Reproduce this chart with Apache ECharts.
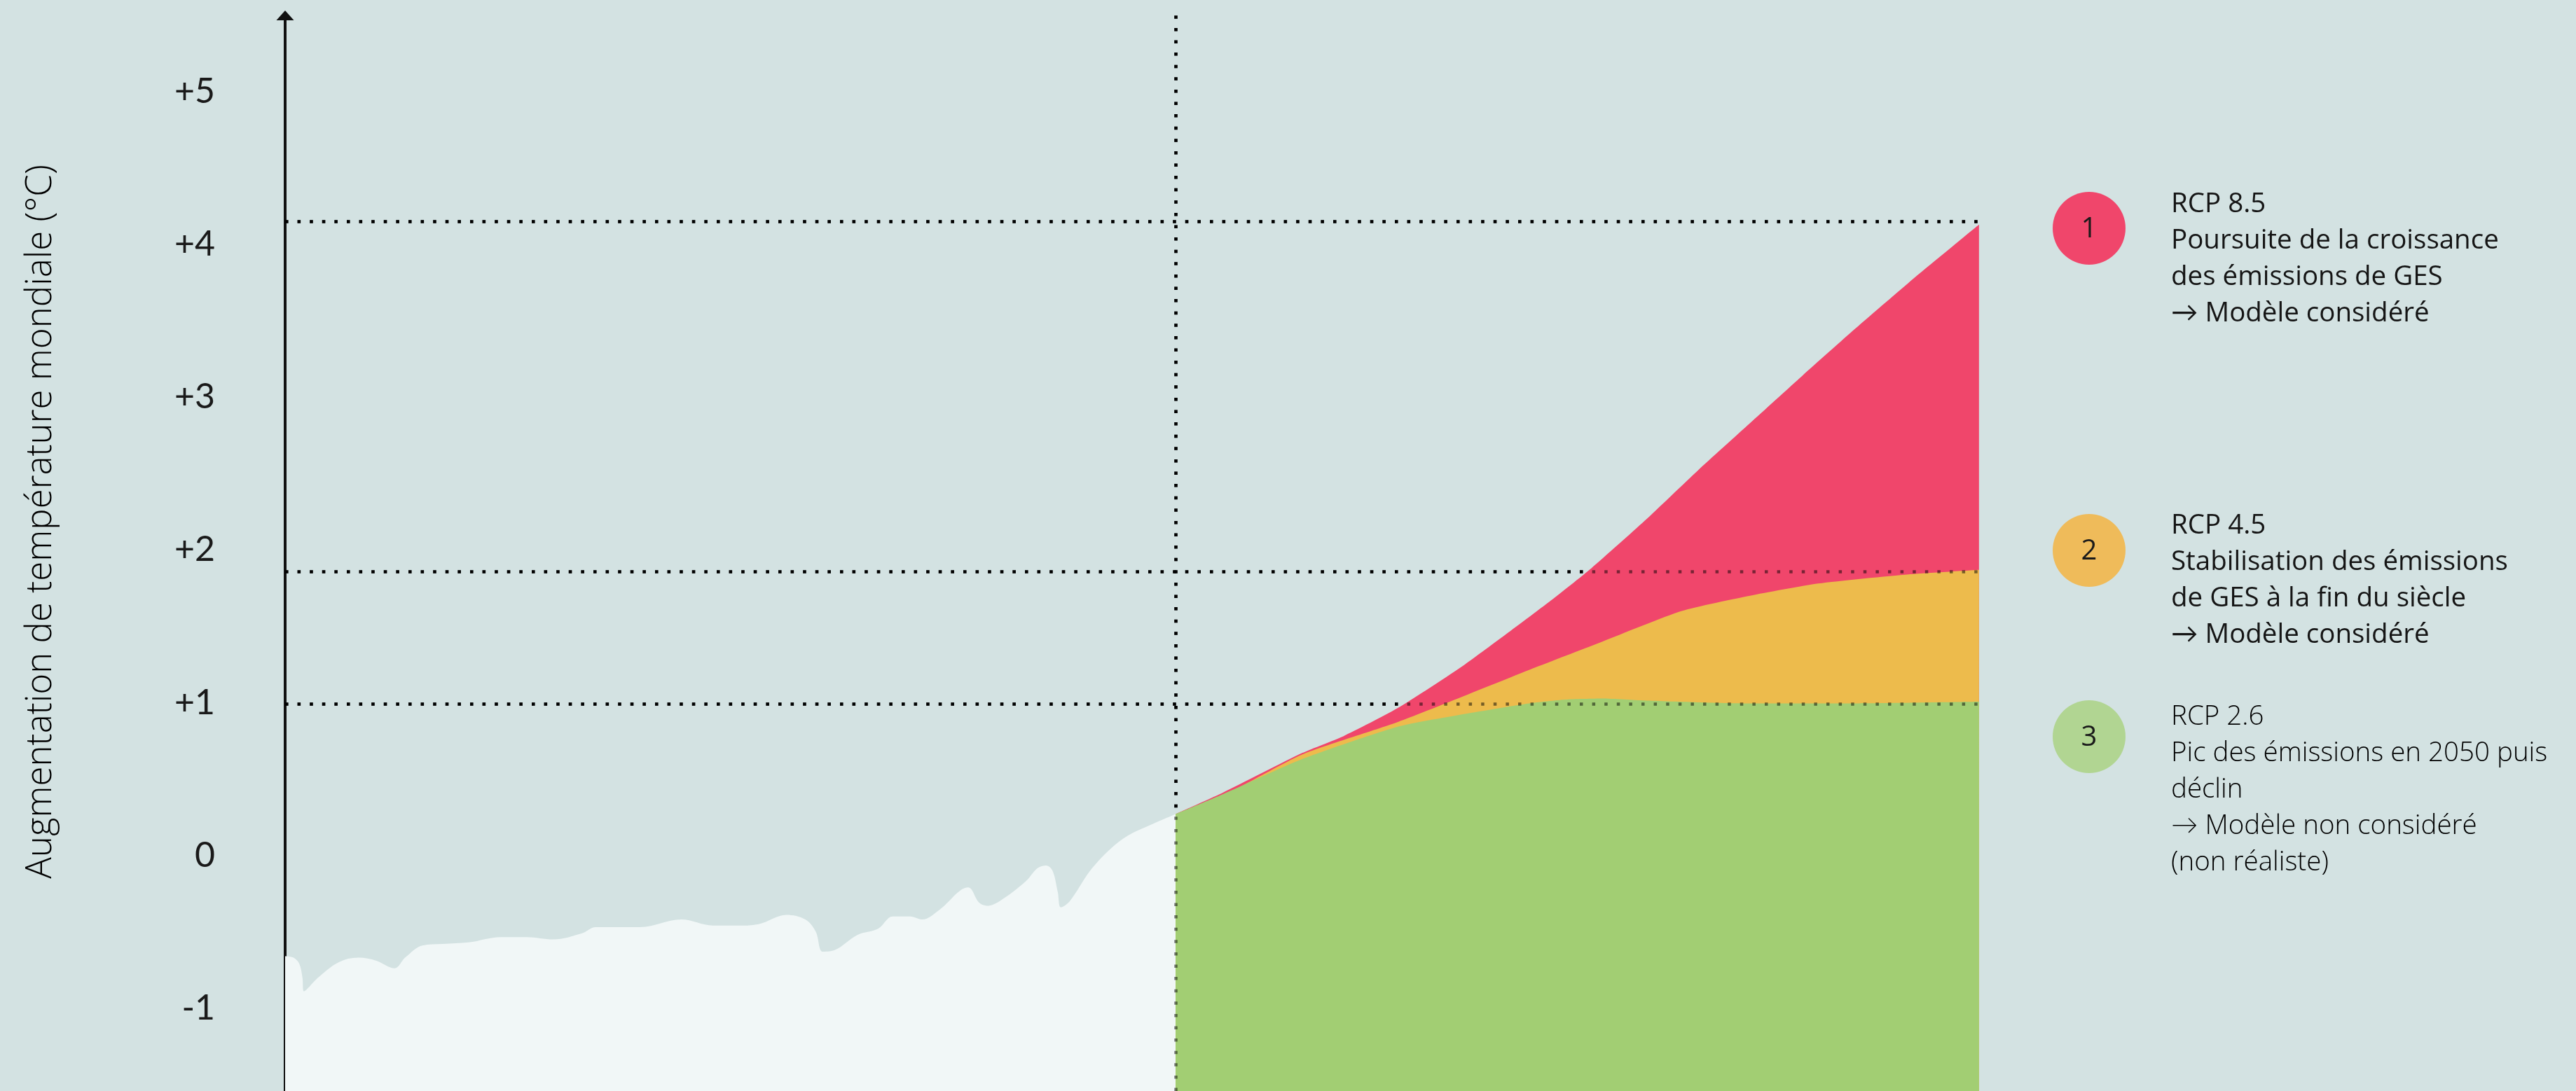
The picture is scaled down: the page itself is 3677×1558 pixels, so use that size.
<!DOCTYPE html>
<html>
<head>
<meta charset="utf-8">
<script src="https://cdn.jsdelivr.net/npm/echarts@6/dist/echarts.min.js"></script>
<style>
html,body{margin:0;padding:0;background:#d3e2e2;}
#chart{width:3677px;height:1558px;}
</style>
</head>
<body>
<div id="chart"></div>
<script>
// ---------- DATA ----------
const yTickValues = [-1, 0, 1, 2, 3, 4, 5];
const yTitle = 'Augmentation de température mondiale (°C)';

const histYears = [1850, 1851.6, 1852.7, 1853.3, 1853.6, 1856.3, 1860.2, 1864.0, 1867.4, 1870.9, 1872.9, 1876.2, 1880.1, 1885.0, 1891.2, 1896.1, 1901.2, 1906.7, 1909.3, 1917.8, 1925.6, 1931.7, 1936.0, 1940.4, 1945.7, 1949.3, 1951.3, 1952.6, 1954.9, 1959.3, 1963.2, 1966.0, 1969.3, 1971.7, 1974.8, 1980.4, 1982.5, 1984.0, 1986.4, 1991.4, 1993.6, 1995.3, 1996.5, 1997.5, 1998.1, 1999.8, 2003.7, 2007.6, 2010.9, 2015.3, 2020];
const histTemps = [-0.66, -0.67, -0.71, -0.80, -0.89, -0.80, -0.70, -0.67, -0.69, -0.74, -0.67, -0.59, -0.58, -0.57, -0.535, -0.535, -0.55, -0.51, -0.47, -0.47, -0.42, -0.46, -0.46, -0.45, -0.39, -0.42, -0.50, -0.63, -0.62, -0.52, -0.48, -0.40, -0.40, -0.42, -0.36, -0.21, -0.31, -0.33, -0.30, -0.17, -0.085, -0.066, -0.10, -0.24, -0.34, -0.30, -0.10, 0.044, 0.13, 0.20, 0.27];

const rcp85Years = [2020, 2024.7, 2032.6, 2036.7, 2042.0, 2048.8, 2057.2, 2061.4, 2066.7, 2072.0, 2077.2, 2082.4, 2087.7, 2093.0, 2100];
const rcp85Temps = [0.27, 0.41, 0.67, 0.78, 0.96, 1.25, 1.66, 1.88, 2.19, 2.52, 2.83, 3.14, 3.45, 3.75, 4.13];

const rcp45Years = [2020, 2025.0, 2032.6, 2042.0, 2046.7, 2056.2, 2062.5, 2070.4, 2077.2, 2084.0, 2093.0, 2100];
const rcp45Temps = [0.27, 0.40, 0.66, 0.87, 0.99, 1.24, 1.40, 1.60, 1.70, 1.78, 1.84, 1.87];

const rcp26Years = [2020, 2024.7, 2032.6, 2042.0, 2048.3, 2055.2, 2058.8, 2062.5, 2066.7, 2072.0, 2077.2, 2087.7, 2100];
const rcp26Temps = [0.27, 0.40, 0.63, 0.84, 0.92, 0.995, 1.02, 1.027, 1.014, 1.002, 0.995, 0.995, 1.006];

const guideLevels = [4.15, 1.86, 0.99];
const presentYear = 2020;
const endYear = 2100;
const histStartYear = 1850;

const legendNumbers = ['1', '2', '3'];
const legendTexts = [
  'RCP 8.5\nPoursuite de la croissance\ndes émissions de GES\n→ Modèle considéré',
  'RCP 4.5\nStabilisation des émissions\nde GES à la fin du siècle\n→ Modèle considéré',
  'RCP 2.6\nPic des émissions en 2050 puis\ndéclin\n→ Modèle non considéré\n(non réaliste)'
];

// ---------- STYLE / LAYOUT ----------
const C_BG = '#d3e2e2', C_HIST = '#f1f7f7', C_RED = '#f0466b', C_YEL = '#edbb4c', C_GRN = '#a2ce73';
const C_CIRC = ['#f0466b', '#efbb5a', '#b1d592'];
const FONT = '"Open Sans", Lato, sans-serif';
const TICK_FONT = 'Lato, "Open Sans", sans-serif';
const GRID = {left: 407, right: 0, top: 22, bottom: 0};
const Y_MIN = -1.543, Y_MAX = 5.5;
const PRESENT_FRAC = 0.3887;   // share of plot width where the present sits
const END_FRAC = 0.7394;       // share of plot width where the projections end
const histMax = histStartYear + (presentYear - histStartYear) / PRESENT_FRAC;
const projSpan = (endYear - presentYear) / (END_FRAC - PRESENT_FRAC);
const projMin = presentYear - PRESENT_FRAC * projSpan;
const projMax = projMin + projSpan;

const zip = (a, b) => a.map((v, i) => [v, b[i]]);

// guide lines are attached to series drawn on the projection axis (xAxisIndex 1)
function guideMarkLine(z, opacity) {
  const data = guideLevels.map(v => [{coord: [projMin, v]}, {coord: [endYear, v]}]);
  data.push({xAxis: presentYear});
  return {
    silent: true, z: z, symbol: 'none', animation: false,
    label: {show: false},
    lineStyle: {color: '#000', width: 4.5, type: [4.5, 13.1], opacity: opacity, cap: 'butt'},
    emphasis: {disabled: true},
    data: data
  };
}

const chart = echarts.init(document.getElementById('chart'), null, {renderer: 'canvas'});

const graphics = [{
  type: 'text', x: 58, y: 745, rotation: Math.PI / 2,
  style: {text: yTitle, font: '300 51px ' + FONT, fill: '#000', textAlign: 'center', textVerticalAlign: 'middle'}
}];
const legendY = [326, 786, 1052];
const legendTop = [266, 725, 998];
legendNumbers.forEach((n, i) => {
  graphics.push({type: 'circle', shape: {cx: 2982, cy: legendY[i], r: 52}, style: {fill: C_CIRC[i]}});
  graphics.push({type: 'text', x: 2982, y: legendY[i] + 2,
    style: {text: n, font: '400 40px ' + FONT, fill: '#1a1a1a', textAlign: 'center', textVerticalAlign: 'middle'}});
  graphics.push({type: 'text', x: 3099, y: legendTop[i],
    style: {text: legendTexts[i], font: (i === 2 ? '300' : '400') + ' 38.5px ' + FONT, lineHeight: 52,
      fill: i === 2 ? '#000' : '#151515', textVerticalAlign: 'top'}});
});

chart.setOption({
  animation: false,
  backgroundColor: C_BG,
  grid: Object.assign({containLabel: false, outerBoundsMode: 'none'}, GRID),
  xAxis: [
    {type: 'value', min: histStartYear, max: histMax, show: false},
    {type: 'value', min: projMin, max: projMax, show: false, position: 'top'}
  ],
  yAxis: {
    type: 'value', min: Y_MIN, max: Y_MAX,
    axisLine: {show: true, onZero: false, symbol: ['none', 'triangle'], symbolSize: [25, 14],
      lineStyle: {color: '#111', width: 4}},
    axisTick: {show: false},
    splitLine: {show: false},
    axisLabel: {
      customValues: yTickValues, margin: 100, fontSize: 50, fontFamily: TICK_FONT, color: '#1a1a1a',
      formatter: v => (v > 0 ? '+' + v : String(v))
    }
  },
  graphic: graphics,
  series: [
    {type: 'line', name: 'Historique', xAxisIndex: 0, data: zip(histYears, histTemps), smooth: 0.35,
      showSymbol: false, lineStyle: {width: 0}, areaStyle: {color: C_HIST, opacity: 1, origin: 'start'}, z: 2},
    {type: 'line', name: 'RCP 8.5', xAxisIndex: 1, data: zip(rcp85Years, rcp85Temps), smooth: 0.2,
      showSymbol: false, lineStyle: {width: 0}, areaStyle: {color: C_RED, opacity: 1, origin: 'start'}, z: 2,
      markLine: guideMarkLine(1, 1)},
    {type: 'line', name: 'RCP 4.5', xAxisIndex: 1, data: zip(rcp45Years, rcp45Temps), smooth: 0.2,
      showSymbol: false, lineStyle: {width: 0}, areaStyle: {color: C_YEL, opacity: 1, origin: 'start'}, z: 3},
    {type: 'line', name: 'RCP 2.6', xAxisIndex: 1, data: zip(rcp26Years, rcp26Temps), smooth: 0.2,
      showSymbol: false, lineStyle: {width: 0}, areaStyle: {color: C_GRN, opacity: 1, origin: 'start'}, z: 4,
      markLine: guideMarkLine(6, 0.5)}
  ]
});
</script>
</body>
</html>
